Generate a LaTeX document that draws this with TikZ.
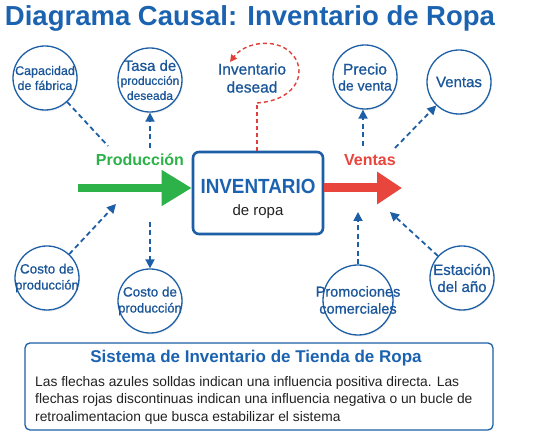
\documentclass[tikz,border=0pt]{standalone}
\usepackage{fontspec}
\setmainfont{Liberation Sans}
\newfontfamily\medium{Liberation Sans}[FakeBold=0.8]
\usetikzlibrary{arrows.meta,shadows}
\definecolor{dblue}{HTML}{1D5FA6}
\definecolor{tblue}{HTML}{1A5699}
\definecolor{titleblue}{HTML}{1B63B0}
\definecolor{cgreen}{HTML}{2DB24A}
\definecolor{cred}{HTML}{E8453C}
\definecolor{dred}{HTML}{E0403A}
\definecolor{bodytext}{HTML}{222222}
\begin{document}
\begin{tikzpicture}[x=1pt,y=-1pt,
  factor/.style={circle, draw=dblue, line width=1.3pt, fill=white, minimum size=64pt, inner sep=-6pt, align=center, text=tblue,
    font=\medium\fontsize{13.5}{15}\selectfont, drop shadow={opacity=0.12, shadow xshift=1pt, shadow yshift=-1.5pt}},
  infl/.style={draw=dblue, line width=1.8pt, dash pattern=on 5pt off 3.5pt},
  inflarrow/.style={infl, -{Triangle[length=9pt,width=9pt]}},
  fbarrow/.style={draw=dred, line width=1.4pt, dash pattern=on 4pt off 3pt, -{Triangle[length=7pt,width=7pt]}},
]
\useasboundingbox[fill=white] (0,0) rectangle (542,435);

% title
\node[text=titleblue, font=\bfseries\fontsize{27.5}{30}\selectfont] (title) at (250,18) {Diagrama Causal: Inventario de Ropa};

% central stock
\node[draw=dblue, line width=2.6pt, rounded corners=6pt, fill=white, minimum width=130pt, minimum height=82pt,
  drop shadow={opacity=0.12, shadow xshift=1pt, shadow yshift=-1.5pt}] (inv) at (258,193) {};
\node[text=titleblue, font=\bfseries\fontsize{20.5}{22}\selectfont] (invt) at (258,186) {\scalebox{0.92}[1]{INVENTARIO}};
\node[text=bodytext, font=\fontsize{15}{16}\selectfont] (invs) at (258,212) {de ropa};

% factors
\node[factor, font=\medium\fontsize{12.5}{15}\selectfont] (cap) at (45,78) {Capacidad\\de fábrica};
\node[factor] (tasa) at (150,80) {{\fontsize{15}{15}\selectfont Tasa de}\\[-1pt]{\fontsize{12}{12}\selectfont producción}\\[0pt]{\fontsize{12}{12}\selectfont deseada}};
\node[factor] (prec) at (365,77) {{\fontsize{15.5}{17}\selectfont Precio}\\[1pt]{\fontsize{14}{15}\selectfont de venta}};
\node[factor, font=\medium\fontsize{15}{16}\selectfont] (vent) at (459,82) {Ventas};
\node[factor] (cos1) at (47,278) {Costo de\\[1pt]{\fontsize{13}{14}\selectfont producción}};
\node[factor] (cos2) at (150,301) {Costo de\\[1pt]{\fontsize{13}{14}\selectfont producción}};
\node[factor, minimum size=70pt, inner sep=-14pt, font=\medium\fontsize{14.5}{17}\selectfont] (promo) at (358,300) {Promociones\\comerciales};
\node[factor, font=\medium\fontsize{15}{17}\selectfont] (est) at (462,278) {Estación\\del año};

% desired inventory (text only) with feedback loop
\node[text=tblue, font=\medium\fontsize{15.5}{18}\selectfont, align=center] (des) at (252,78) {Inventario\\desead};
\coordinate (lp) at (257,103);
\coordinate (lpend) at (230,62);
\draw[draw=dred, line width=1.4pt, dash pattern=on 4pt off 3pt] (inv.north -| lp) -- (lp);
\draw[fbarrow] (lp) .. controls (300,100) and (308,68) .. (290,52) .. controls (275,38) and (245,42) .. (lpend);

% flows
\coordinate (pin) at (78,188);
\coordinate (pout) at (402,188);
\draw[cgreen, line width=8pt, -{Triangle[length=30pt,width=34pt]}] (pin) -- (inv.west |- pin) ;
\draw[cred, line width=9pt, -{Triangle[length=25pt,width=31pt]}] (inv.east |- pout) -- (pout);
\node[text=cgreen, font=\bfseries\fontsize{16}{18}\selectfont] (prodl) at (140,160) {Producción};
\node[text=cred, font=\bfseries\fontsize{16}{18}\selectfont] (ventl) at (370,160) {Ventas};

% influences
\coordinate (c1) at (108,146);
\coordinate (c2) at (150,148);
\coordinate (c3) at (363,146);
\coordinate (c4) at (395,148);
\coordinate (c5) at (116,204);
\coordinate (c6) at (150,222);
\coordinate (c7) at (358,212);
\coordinate (c8) at (390,212);
\draw[infl] (cap) -- (c1);
\draw[inflarrow] (c2) -- (tasa);
\draw[inflarrow] (c3) -- (c3 |- prec.south);
\draw[inflarrow] (c4) -- (vent);
\draw[inflarrow] (cos1) -- (c5);
\draw[inflarrow] (c6) -- (cos2);
\draw[inflarrow] (promo) -- (c7);
\draw[inflarrow] (est) -- (c8);

% explanation box
\node[draw=dblue, line width=1.3pt, rounded corners=5pt, fill=white, minimum width=468pt, minimum height=87pt] (box) at (259,386.5) {};
\node[text=titleblue, font=\bfseries\fontsize{17}{19}\selectfont] (boxt) at (256,358) {Sistema de Inventario de Tienda de Ropa};
\node[text=bodytext, font=\fontsize{13.8}{17.5}\selectfont, align=left, anchor=north west, inner sep=0pt] (boxb) at (35,376)
 {Las flechas azules solldas indican una influencia positiva directa. Las\\
  flechas rojas discontinuas indican una influencia negativa o un bucle de\\
  retroalimentacion que busca estabilizar el sistema};
\end{tikzpicture}
\end{document}
